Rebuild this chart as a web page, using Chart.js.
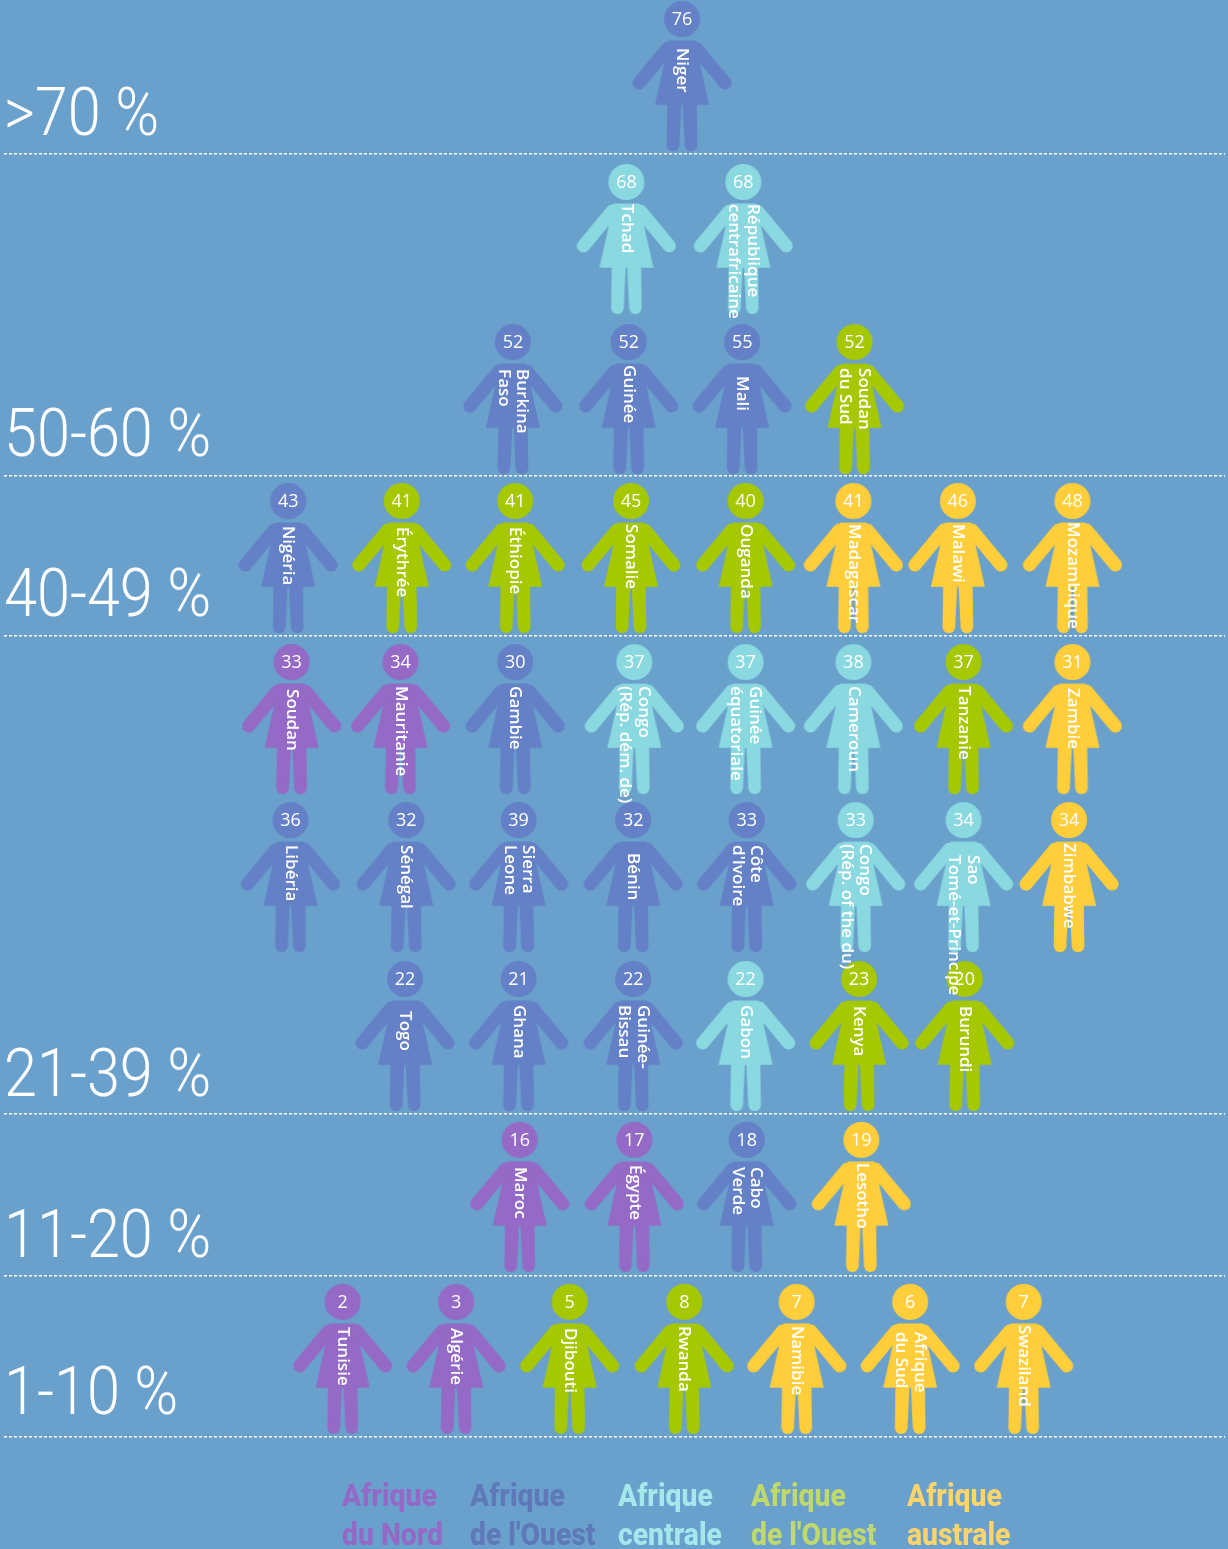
<!DOCTYPE html>
<html lang="fr"><head><meta charset="utf-8">
<script src="https://cdn.jsdelivr.net/npm/chart.js@4"></script>
<style>html,body{margin:0;padding:0;background:#6aa0cc}canvas{display:block}</style>
</head><body><canvas id="c" width="1228" height="1549"></canvas>
<script>
const countries = ["Niger","Tchad","République\ncentrafricaine","Burkina\nFaso","Guinée","Mali","Soudan\ndu Sud",
"Nigéria","Érythrée","Éthiopie","Somalie","Ouganda","Madagascar","Malawi","Mozambique",
"Soudan","Mauritanie","Gambie","Congo\n(Rép. dém. de)","Guinée\néquatoriale","Cameroun","Tanzanie","Zambie",
"Libéria","Sénégal","Sierra\nLeone","Bénin","Côte\nd'Ivoire","Congo\n(Rép. of the du)","Sao\nTomé-et-Principe","Zimbabwe",
"Togo","Ghana","Guinée-\nBissau","Gabon","Kenya","Burundi",
"Maroc","Égypte","Cabo\nVerde","Lesotho",
"Tunisie","Algérie","Djibouti","Rwanda","Namibie","Afrique\ndu Sud","Swaziland"];
const percentages = [76,68,68,52,52,55,52,43,41,41,45,40,41,46,48,33,34,30,37,37,38,37,31,36,32,39,32,33,33,34,34,22,21,22,22,23,20,16,17,18,19,2,3,5,8,7,6,7];
const regionOf = [1,2,2,1,1,1,3,1,3,3,3,3,4,4,4,0,0,1,2,2,2,3,4,1,1,1,1,1,2,2,4,1,1,1,2,3,3,0,0,1,4,0,0,3,3,4,4,4];
const rowOf = [0,1,1,2,2,2,2,3,3,3,3,3,3,3,3,4,4,4,4,4,4,4,4,5,5,5,5,5,5,5,5,6,6,6,6,6,6,7,7,7,7,8,8,8,8,8,8,8];
const slotOf = [0,-0.49,0.54,-1.49,-0.47,0.53,1.52,
-3.47,-2.47,-1.47,-0.45,0.56,1.51,2.43,3.44,
-3.44,-2.48,-1.47,-0.42,0.56,1.51,2.48,3.44,
-3.45,-2.43,-1.44,-0.43,0.57,1.53,2.48,3.41,
-2.44,-1.44,-0.43,0.56,1.56,2.49,
-1.43,-0.42,0.57,1.58,
-2.99,-1.99,-0.99,0.02,1.01,2.01,3.01];
const nameInsets = [29,22,22,27,23,34,26,
25,26,26,23,23,23,23,21,
27,24,24,24,24,24,24,26,
25,25,25,33,25,24,35,23,
32,26,26,26,27,27,
27,25,27,23,
25,26,26,24,24,30,23];
const rowPositions = [0,1.016,2.014,3.005,4.009,4.994,5.985,6.988,7.998];
const bandBottoms = [0.486,2.494,3.491,6.471,7.481,8.485];
const bandLabels = [">70 %","50-60 %","40-49 %","21-39 %","11-20 %","1-10 %"];
const bandLabelRows = [0.368,2.369,3.367,6.359,7.362,8.342];
const regionNames = ["Afrique\ndu Nord","Afrique\nde l'Ouest","Afrique\ncentrale","Afrique\nde l'Ouest","Afrique\naustrale"];

const markColors = ["#946ac6","#6480c6","#8ad9e0","#a5c800","#ffce3a"];
const legendColors = ["#9468c6","#5f78b8","#a5e8ec","#bfd96a","#ffd46a"];
const legendX = [342,470,618,751,907];

function personIcon(color){
  const c=document.createElement('canvas');c.width=100;c.height=152;
  const g=c.getContext('2d');g.fillStyle=color;g.strokeStyle=color;
  g.beginPath();g.arc(50,19,18,0,Math.PI*2);g.fill();
  g.beginPath();
  [[37,40.5],[63,40.5],[67,60],[77,104.7],[23,104.7],[33,60]].forEach((p,i)=>i?g.lineTo(p[0],p[1]):g.moveTo(p[0],p[1]));
  g.closePath();g.fill();
  g.lineWidth=13;g.lineCap='round';
  [[7,36],[93,64]].forEach(a=>{g.beginPath();g.moveTo(a[0],83);g.lineTo(a[1],48);g.stroke();});
  [1,-1].forEach(s=>{
    const X=x=>50+s*(x-50);
    g.beginPath();g.moveTo(X(35.3),104);g.lineTo(X(49.3),104);g.lineTo(X(47.3),145);g.lineTo(X(34.7),145);g.closePath();g.fill();
    g.beginPath();g.arc(X(41),144.8,6.3,0,Math.PI*2);g.fill();
  });
  return c;
}

const datasets = regionNames.map((name,r)=>{
  const idx=countries.map((_,i)=>i).filter(i=>regionOf[i]===r);
  return {label:name.replace("\n"," "),
    data:idx.map(i=>({x:slotOf[i],y:rowPositions[rowOf[i]],name:countries[i],value:percentages[i],inset:nameInsets[i]})),
    pointStyle:personIcon(markColors[r]),showLine:false,clip:false};
});

const markText={id:'markText',afterDatasetsDraw(chart){
  const g=chart.ctx;g.save();g.fillStyle='#fff';
  chart.data.datasets.forEach((ds,d)=>{
    chart.getDatasetMeta(d).data.forEach((el,i)=>{
      const p=ds.data[i];
      g.font='400 18px "Open Sans"';g.textAlign='center';g.textBaseline='middle';
      g.fillText(String(p.value),el.x,el.y-56);
      const lines=p.name.split("\n");
      g.save();g.translate(el.x,el.y-57+p.inset);g.rotate(Math.PI/2);
      g.font='600 17px "Open Sans"';g.textAlign='left';
      lines.forEach((t,k)=>g.fillText(t,0,(k-(lines.length-1)/2)*18.5));
      g.restore();
    });
  });
  g.restore();
}};
const bandText={id:'bandText',afterDraw(chart){
  const g=chart.ctx,s=chart.scales.y,x0=chart.chartArea.left;
  g.save();g.fillStyle='#fff';g.textBaseline='alphabetic';g.textAlign='left';
  g.font='300 66px Roboto';
  bandLabels.forEach((t,i)=>{
    g.save();g.translate(x0,s.getPixelForValue(bandLabelRows[i]));g.scale(0.9,1);g.fillText(t,0,0);g.restore();
  });
  g.restore();
}};
const regionKey={id:'regionKey',afterDraw(chart){
  const g=chart.ctx;g.save();g.textAlign='left';g.textBaseline='alphabetic';
  g.font='800 32px Roboto';
  regionNames.forEach((n,r)=>{g.fillStyle=legendColors[r];
    n.split("\n").forEach((t,k)=>{g.save();g.translate(legendX[r],1506+k*39);g.scale(0.885,1);g.fillText(t,0,0);g.restore();});});
  g.restore();
}};

new Chart(document.getElementById('c'),{
  type:'scatter',
  data:{datasets},
  plugins:[markText,bandText,regionKey],
  options:{
    responsive:false,animation:false,
    layout:{autoPadding:false,padding:{left:4,right:3,top:0,bottom:0}},
    plugins:{legend:{display:false},tooltip:{enabled:false}},
    elements:{point:{radius:10,hoverRadius:10}},
    scales:{
      x:{type:'linear',display:false,min:-5.974,max:4.784},
      y:{type:'linear',reverse:true,min:-0.474,max:9.183,
        afterBuildTicks(s){s.ticks=bandBottoms.map(v=>({value:v}));},
        afterFit(s){s.width=0;s.paddingTop=0;s.paddingBottom=0;},
        grid:{color:'#ffffff',lineWidth:1.5,drawTicks:false},
        border:{display:false,dash:[3,2]},
        ticks:{display:false,autoSkip:false}
      }
    }
  }
});
</script></body></html>
